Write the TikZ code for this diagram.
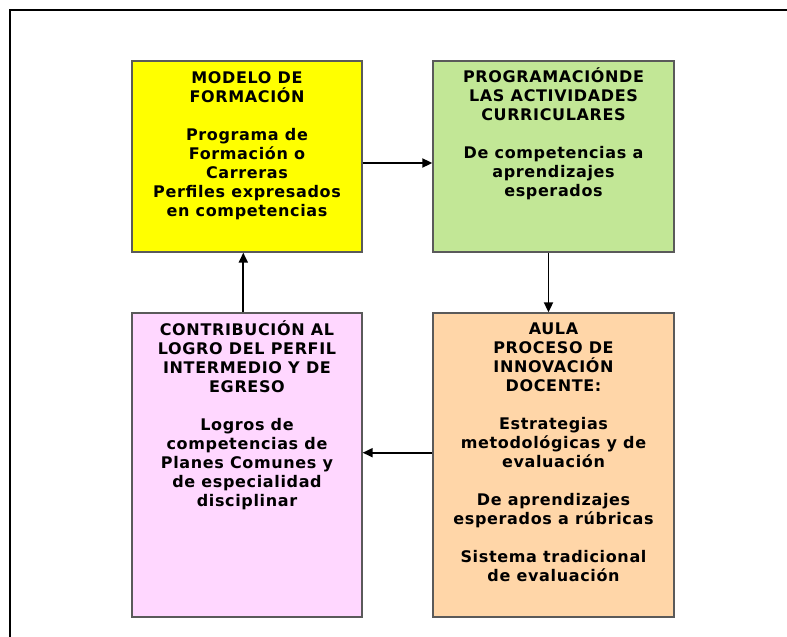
\documentclass[tikz,border=0pt]{standalone}
\usepackage{fontspec}
\setmainfont{DejaVu Sans}
\newfontfamily\boxfont[LetterSpace=4]{DejaVu Sans Bold}
\usetikzlibrary{arrows.meta}
\definecolor{cyellow}{HTML}{FFFF00}
\definecolor{cgreen}{HTML}{C2E796}
\definecolor{cpink}{HTML}{FFD7FF}
\definecolor{corange}{HTML}{FFD6A8}
\definecolor{cborder}{HTML}{5A5A5A}
\tikzset{
  box/.style={draw=cborder, line width=1.3bp, inner sep=0pt, minimum width=230bp},
  txt/.style={anchor=north, inner sep=0pt, align=center,
    font=\boxfont\fontsize{16bp}{19bp}\selectfont},
  arr/.style={line width=1.8bp, -{Triangle[length=10bp,width=9bp]}},
  frame/.style={line width=2bp, black}
}
\begin{document}
\begin{tikzpicture}[x=1bp,y=-1bp]
\useasboundingbox (0,0) rectangle (787,637);
\draw[frame] (9.5,637) -- (9.5,10.5) -- (787,10.5);

\node[box, fill=cyellow, minimum width=230bp, minimum height=191bp] (yellow) at (247,156.5) {};
\node[box, fill=cgreen, minimum width=241bp, minimum height=191bp] (green) at (553.5,156.5) {};
\node[box, fill=cpink, minimum width=230bp, minimum height=304bp] (pink) at (247,465) {};
\node[box, fill=corange, minimum width=241bp, minimum height=304bp] (orange) at (553.5,465) {};

\node[txt] (yellowtxt) at (yellow.north) {\rule{0pt}{23bp}MODELO DE\\ FORMACIÓN\\[19bp] Programa de\\ Formación o\\ Carreras\\ Perfiles expresados\\ en competencias};
\node[txt] (greentxt) at (green.north) {\rule{0pt}{22bp}PROGRAMACIÓNDE\\ LAS ACTIVIDADES\\ CURRICULARES\\[19bp] De competencias a\\ aprendizajes\\ esperados};
\node[txt] (pinktxt) at (pink.north) {\rule{0pt}{23bp}CONTRIBUCIÓN AL\\ LOGRO DEL PERFIL\\ INTERMEDIO Y DE\\ EGRESO\\[19bp] Logros de\\ competencias de\\ Planes Comunes y\\ de especialidad\\ disciplinar};
\node[txt] (orangetxt) at (orange.north) {\rule{0pt}{22bp}AULA\\ PROCESO DE\\ INNOVACIÓN\\ DOCENTE:\\[19bp] Estrategias\\ metodológicas y de\\ evaluación\\[19bp] De aprendizajes\\ esperados a rúbricas\\[19bp] Sistema tradicional\\ de evaluación};

\draw[arr] ([yshift=-6.5bp]yellow.east) -- ([yshift=-6.5bp]green.west);
\draw[arr] ([xshift=-5bp]green.south) -- ([xshift=-5bp]orange.north);
\draw[arr] ([yshift=12.3bp]orange.west) -- ([yshift=12.3bp]pink.east);
\draw[arr] ([xshift=-3.7bp]pink.north) -- ([xshift=-3.7bp]yellow.south);
\end{tikzpicture}
\end{document}
